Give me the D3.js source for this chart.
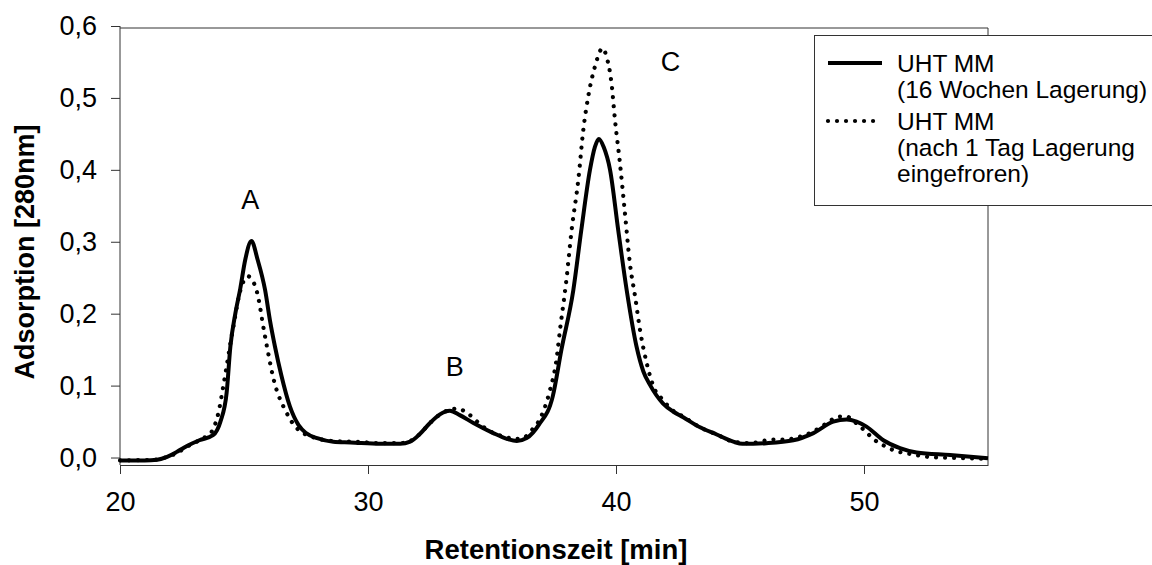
<!DOCTYPE html>
<html><head><meta charset="utf-8">
<script src="https://cdn.jsdelivr.net/npm/d3@7"></script>
<style>body{margin:0;background:#fff}svg{display:block}text{font-family:"Liberation Sans",Arial,sans-serif;fill:#000}</style>
</head><body>
<svg id="c" width="1152" height="565"></svg>
<script>
// ---- data ----
const solidTime = [20.0,21.0,21.5,21.9,22.3,22.7,23.2,23.75,24.05,24.3,24.45,24.65,24.85,25.05,25.3,25.55,25.85,26.05,26.25,26.5,26.85,27.2,27.5,27.95,28.6,29.3,30.5,31.3,31.7,32.1,32.5,32.9,33.3,33.7,34.25,35.05,35.6,36.0,36.4,36.9,37.45,37.8,38.28,38.6,38.95,39.15,39.31,39.5,39.76,40.09,40.43,40.83,41.1,41.37,41.9,42.3,42.71,43.39,44.06,44.73,45.1,46.07,47.15,47.96,48.76,49.3,49.7,50.1,50.78,51.45,52.12,53.47,55.0];
const solidValue = [-0.004,-0.004,-0.003,0.001,0.008,0.016,0.024,0.031,0.05,0.09,0.154,0.2,0.235,0.275,0.301,0.275,0.233,0.19,0.154,0.115,0.071,0.045,0.034,0.027,0.022,0.021,0.019,0.019,0.022,0.033,0.048,0.06,0.065,0.059,0.048,0.034,0.026,0.023,0.027,0.046,0.085,0.15,0.233,0.316,0.40,0.432,0.443,0.432,0.40,0.316,0.233,0.154,0.12,0.101,0.075,0.064,0.056,0.042,0.032,0.022,0.019,0.02,0.024,0.034,0.05,0.053,0.05,0.043,0.024,0.013,0.007,0.0035,-0.001];
const dottedTime = [20.0,21.5,21.9,22.28,22.7,23.09,23.5,23.7,23.96,24.17,24.5,24.9,25.16,25.5,25.85,26.2,26.72,27.12,27.9,28.6,29.5,30.5,31.3,31.7,32.1,32.5,33.0,33.6,34.0,34.4,34.8,35.5,36.0,36.3,36.6,36.94,37.34,37.6,37.74,38.0,38.21,38.48,38.68,38.88,39.15,39.46,39.62,39.82,39.96,40.16,40.36,40.56,40.77,40.97,41.24,41.57,41.84,42.3,42.71,43.39,44.06,44.73,45.4,46.34,46.75,47.42,47.82,48.2,48.56,48.97,49.3,49.6,50.04,50.4,50.78,51.18,51.85,52.8,54.14,55.0];
const dottedValue = [-0.004,-0.003,0.001,0.006,0.015,0.022,0.03,0.036,0.061,0.1,0.168,0.238,0.252,0.233,0.168,0.108,0.062,0.041,0.027,0.023,0.022,0.02,0.02,0.023,0.033,0.048,0.062,0.068,0.062,0.05,0.039,0.029,0.026,0.028,0.038,0.054,0.094,0.136,0.177,0.247,0.316,0.386,0.455,0.502,0.5435,0.569,0.557,0.52,0.469,0.409,0.34,0.27,0.224,0.177,0.131,0.094,0.082,0.065,0.057,0.042,0.032,0.022,0.02,0.025,0.025,0.029,0.034,0.041,0.049,0.057,0.057,0.05,0.037,0.025,0.017,0.0104,0.005,0.0003,-0.001,-0.002];
const xTicks = [20,30,40,50];
const yTicks = [0,0.1,0.2,0.3,0.4,0.5,0.6];
const peakLabels = [{t:25.25,v:0.345,text:"A"},{t:33.5,v:0.113,text:"B"},{t:42.2,v:0.538,text:"C"}];
const legendEntries = [{lines:["UHT MM","(16 Wochen Lagerung)"],dotted:false},{lines:["UHT MM","(nach 1 Tag Lagerung","eingefroren)"],dotted:true}];
const xTitle = "Retentionszeit [min]";
const yTitle = "Adsorption [280nm]";

// ---- chart ----
const svg = d3.select("#c");
const x = d3.scaleLinear().domain([20,55]).range([120,988]);
const y = d3.scaleLinear().domain([-0.0104,0.6]).range([465,26]);
const fmt = v => d3.format(".1f")(v).replace(".",",");

// frame (top & right)
svg.append("path").attr("d",`M${x(20)},28H${x(55)}V465`).attr("fill","none").attr("stroke","#333").attr("stroke-width",1);

const xa = svg.append("g").attr("transform","translate(0,465)")
  .call(d3.axisBottom(x).tickValues(xTicks).tickSize(9).tickSizeOuter(0).tickPadding(18).tickFormat(d3.format("d")));
const ya = svg.append("g").attr("transform","translate(120,0)")
  .call(d3.axisLeft(y).tickValues(yTicks).tickSize(9).tickSizeOuter(0).tickPadding(14).tickFormat(fmt));
[xa,ya].forEach(a=>{
  a.selectAll("path.domain").attr("stroke","#333");
  a.selectAll(".tick line").attr("stroke","#333");
  a.selectAll(".tick text").attr("font-family","'Liberation Sans',Arial,sans-serif").attr("font-size",27).attr("fill","#000");
});
ya.select("path.domain").attr("d","M0,465V26");

const line = d3.line().x(d=>x(d[0])).y(d=>y(d[1])).curve(d3.curveMonotoneX);
const solid = solidTime.map((t,i)=>[t,solidValue[i]]);
const dotted = dottedTime.map((t,i)=>[t,dottedValue[i]]);

svg.append("path").datum(dotted).attr("d",line).attr("fill","none").attr("stroke","#000")
  .attr("stroke-width",4.2).attr("stroke-linecap","round").attr("stroke-dasharray","0.01 9");
svg.append("path").datum(solid).attr("d",line).attr("fill","none").attr("stroke","#000")
  .attr("stroke-width",4).attr("stroke-linejoin","round");

svg.selectAll("text.peak").data(peakLabels).join("text").attr("class","peak")
  .attr("x",d=>x(d.t)).attr("y",d=>y(d.v)).attr("text-anchor","middle").attr("font-size",27).text(d=>d.text);

// axis titles
svg.append("text").attr("x",556).attr("y",559).attr("text-anchor","middle").attr("font-size",27.5).attr("font-weight","bold").text(xTitle);
svg.append("text").attr("transform","translate(34,252) rotate(-90)").attr("text-anchor","middle").attr("font-size",27).attr("font-weight","bold").text(yTitle);

// legend
const lg = svg.append("g");
lg.append("rect").attr("x",814.5).attr("y",35.5).attr("width",360).attr("height",170).attr("fill","#fff").attr("stroke","#333");
const baseY = [72,130];
legendEntries.forEach((e,i)=>{
  const cy = baseY[i]-9;
  lg.append("line").attr("x1",828).attr("x2",882).attr("y1",cy).attr("y2",cy).attr("stroke","#000")
    .attr("stroke-width",e.dotted?4.2:4).attr("stroke-linecap",e.dotted?"round":"butt")
    .attr("stroke-dasharray",e.dotted?"0.01 9":null);
  e.lines.forEach((s,j)=>{
    lg.append("text").attr("x",897).attr("y",baseY[i]+j*26).attr("font-size",24.5).text(s);
  });
});
</script>
</body></html>
